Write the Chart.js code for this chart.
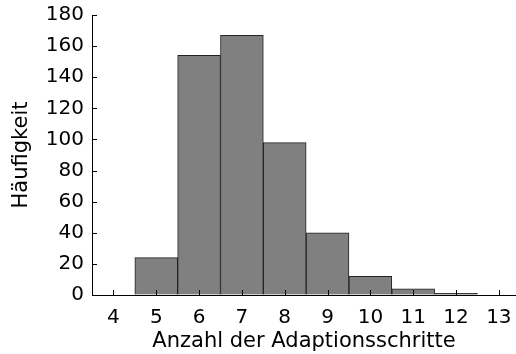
<!DOCTYPE html>
<html>
<head>
<meta charset="utf-8">
<script src="https://cdn.jsdelivr.net/npm/chart.js@4/dist/chart.umd.min.js"></script>
<style>
  html, body { margin: 0; padding: 0; background: #fff; }
  #c { display: block; }
</style>
</head>
<body>
<canvas id="c" width="516" height="354"></canvas>
<script>
const categories = [4, 5, 6, 7, 8, 9, 10, 11, 12, 13];
const counts = [0, 24, 154, 167, 98, 40, 12, 4, 1, 0];
const yTicks = [0, 20, 40, 60, 80, 100, 120, 140, 160, 180];
const xTitle = 'Anzahl der Adaptionsschritte';
const yTitle = 'Häufigkeit';

const FONT = 'DejaVu Sans';

const inwardTicks = {
  id: 'inwardTicks',
  afterDraw(chart) {
    const ctx = chart.ctx;
    const xs = chart.scales.x, ys = chart.scales.y;
    const area = chart.chartArea;
    ctx.save();
    ctx.strokeStyle = '#000';
    ctx.lineWidth = 1;
    ctx.beginPath();
    yTicks.forEach(v => {
      const py = Math.round(ys.getPixelForValue(v)) + 0.5;
      ctx.moveTo(area.left, py);
      ctx.lineTo(area.left + 5, py);
    });
    categories.forEach(v => {
      const px = Math.round(xs.getPixelForValue(v)) + 0.5;
      ctx.moveTo(px, area.bottom);
      ctx.lineTo(px, area.bottom - 5);
    });
    ctx.stroke();
    ctx.restore();
  }
};

new Chart(document.getElementById('c'), {
  type: 'bar',
  data: {
    datasets: [{
      data: categories.map((c, i) => ({ x: c, y: counts[i] })),
      backgroundColor: '#808080',
      borderColor: '#222',
      borderWidth: 1,
      barPercentage: 1,
      categoryPercentage: 1
    }]
  },
  options: {
    responsive: false,
    devicePixelRatio: 1,
    animation: false,
    layout: { padding: { top: 15, right: 0, left: 0, bottom: 0 } },
    plugins: { legend: { display: false }, tooltip: { enabled: false } },
    scales: {
      x: {
        type: 'linear',
        offset: false,
        min: 3.5,
        max: 13.4,
        afterBuildTicks: s => { s.ticks = categories.map(v => ({ value: v })); },
        afterFit: s => { s.height = 59; s.paddingLeft = 0; s.paddingRight = 0; },
        grid: { display: true, drawOnChartArea: false, drawTicks: false, offset: false },
        border: { display: true, color: '#000', width: 1 },
        ticks: { color: '#000', font: { family: FONT, size: 20 }, padding: 11, maxRotation: 0, autoSkip: false },
        title: { display: true, text: xTitle, color: '#000', font: { family: FONT, size: 21 }, padding: { top: 0, bottom: 0 } }
      },
      y: {
        min: 0,
        max: 180,
        afterBuildTicks: s => { s.ticks = yTicks.map(v => ({ value: v })); },
        afterFit: s => { s.width = 92; s.paddingTop = 0; s.paddingBottom = 0; },
        grid: { display: true, drawOnChartArea: false, drawTicks: false },
        border: { display: true, color: '#000', width: 1 },
        ticks: { color: '#000', font: { family: FONT, size: 20 }, padding: 8 },
        title: { display: true, text: yTitle, color: '#000', font: { family: FONT, size: 21 }, padding: { top: 9, bottom: 0 } }
      }
    }
  },
  plugins: [inwardTicks]
});
</script>
</body>
</html>
